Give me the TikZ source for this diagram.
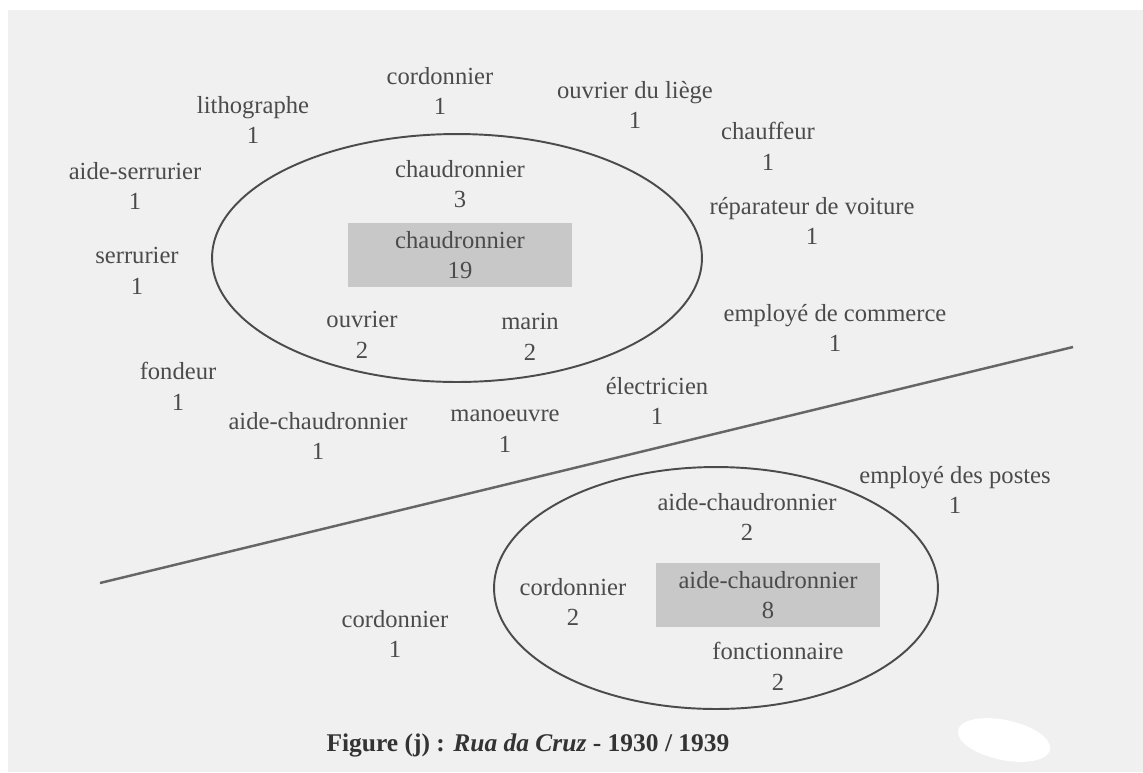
\documentclass[tikz,border=0pt]{standalone}
\usepackage{fontspec}
\setmainfont{Liberation Serif}
\usepackage{xcolor}
\usetikzlibrary{shapes.geometric}

\definecolor{paper}{RGB}{240,240,240}
\definecolor{boxgrey}{RGB}{200,200,200}
\definecolor{inkgrey}{RGB}{75,75,75}

\begin{document}
\begin{tikzpicture}[
    x={(0.02cm,0)},
    y={(0,-0.02cm)},
    job/.style={
        align=center,
        inner sep=0pt,
        text=inkgrey,
        font=\fontsize{14}{17.5}\selectfont
    },
    core/.style={
        job,
        rectangle,
        fill=boxgrey,
        minimum width=4.5cm,
        minimum height=1.28cm
    },
    group/.style={
        ellipse,
        draw=inkgrey,
        line width=1.1pt,
        inner sep=0pt
    },
    divider/.style={
        draw=black!60,
        line width=1.4pt
    }
]
    \useasboundingbox (0,0) rectangle (1143,772);
    \fill[white] (0,0) rectangle (1143,772);
    \fill[paper] (8,10) rectangle (1143,772);
    \fill[white, rotate around={-12:(1004,740)}] (1004,740) ellipse [x radius=0.94cm, y radius=0.4cm];

    % the two circles
    \node[group, minimum width=9.8cm, minimum height=4.96cm] (ringA) at (457,258) {};
    \node[group, minimum width=8.88cm, minimum height=4.84cm] (ringB) at (716,588) {};

    % upper circle
    \node[core] (coreA) at (460,255) {chaudronnier\\19};
    \node[job] (chaudA) at (460,184) {chaudronnier\\3};
    \node[job] (ouvrier) at (362,335) {ouvrier\\2};
    \node[job] (marin) at (530,337) {marin\\2};

    % around the upper circle
    \node[job] (cordA) at (440,91) {cordonnier\\1};
    \node[job] (litho) at (253,120) {lithographe\\1};
    \node[job] (liege) at (635,105) {ouvrier du liège\\1};
    \node[job] (chauff) at (768,146) {chauffeur\\1};
    \node[job] (aideserr) at (135,186) {aide-serrurier\\1};
    \node[job] (repar) at (812,221) {réparateur de voiture\\1};
    \node[job] (serr) at (137,271) {serrurier\\1};
    \node[job] (commerce) at (835,328) {employé de commerce\\1};
    \node[job] (fondeur) at (178,386) {fondeur\\1};
    \node[job] (aidechA) at (318,436) {aide-chaudronnier\\1};
    \node[job] (manoeuvre) at (505,431) {manoeuvre\\1};
    \node[job] (electr) at (657,401) {électricien\\1};

    % dividing line
    \coordinate (divL) at (100,583);
    \coordinate (divR) at (1073,347);
    \draw[divider] (divL) -- (divR);

    % lower circle
    \node[core] (coreB) at (768,595) {aide-chaudronnier\\8};
    \node[job] (aidechB) at (747,517) {aide-chaudronnier\\2};
    \node[job] (cordB) at (573,602) {cordonnier\\2};
    \node[job] (fonct) at (778,666) {fonctionnaire\\2};
    \node[job] (postes) at (955,490) {employé des postes\\1};
    \node[job] (cordC) at (395,634) {cordonnier\\1};

    \node[text=black!80, font=\fontsize{14.5}{17}\selectfont\bfseries] (caption) at (528,745)
        {Figure (j) : \textit{Rua da Cruz} - 1930 / 1939};
\end{tikzpicture}
\end{document}
